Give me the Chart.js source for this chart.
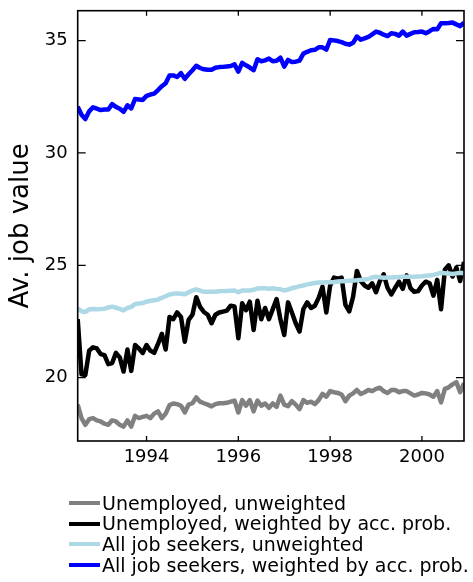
<!DOCTYPE html>
<html>
<head>
<meta charset="utf-8">
<script src="https://cdn.jsdelivr.net/npm/chart.js@4.4.1/dist/chart.umd.min.js"></script>
<style>
  body { margin: 0; background: #fff; }
  #wrap { position: relative; width: 473px; height: 582px; }
  #legend {
    position: absolute; left: 69px; top: 492.5px;
    font-family: "DejaVu Sans", sans-serif; font-size: 19px; line-height: 20.7px; color: #000;
  }
  .row { display: flex; align-items: center; white-space: nowrap; height: 20.7px; }
  .swatch { width: 31px; height: 4px; margin-right: 2px; flex: none; }
</style>
</head>
<body>
<div id="wrap">
  <canvas id="chart" width="473" height="582"></canvas>
  <div id="legend"></div>
</div>
<script>
const firstMonth = 1992 + 6 / 12   // July 1992, monthly data

const seriesNames = [
    'Unemployed, unweighted',
    'Unemployed, weighted by acc. prob.',
    'All job seekers, unweighted',
    'All job seekers, weighted by acc. prob.'
]
const seriesColors = ['#808080', '#000000', '#add8e6', '#0000ff']

const unempUnweighted = [
    18.8, 18.2, 17.9, 18.15, 18.2, 18.1, 18.05, 17.95, 17.9, 18.1,
    18.05, 17.9, 17.82, 18.1, 17.82, 18.3, 18.2, 18.25, 18.3, 18.2,
    18.4, 18.5, 18.2, 18.4, 18.78, 18.85, 18.82, 18.75, 18.45, 18.8,
    18.86, 19.12, 18.93, 18.86, 18.8, 18.72, 18.82, 18.86, 18.86, 18.88,
    18.93, 18.98, 18.45, 19.0, 18.75, 19.0, 18.5, 18.98, 18.75, 18.85,
    18.66, 18.85, 18.7, 19.2, 18.8, 18.73, 18.95, 18.8, 18.6, 19.0,
    18.88, 18.93, 18.82, 19.0, 19.28, 19.15, 19.4, 19.35, 19.32, 19.25,
    18.95, 19.2, 19.3, 19.45, 19.27, 19.35, 19.45, 19.4, 19.5, 19.55,
    19.4, 19.32, 19.45, 19.45, 19.35, 19.4, 19.4, 19.3, 19.2, 19.25,
    19.32, 19.3, 19.25, 19.15, 19.4, 18.9, 19.5, 19.57, 19.7, 19.8,
    19.35, 19.75
]
const unempWeighted = [
    22.6, 20.15, 20.12, 21.2, 21.35, 21.3, 21.05, 21.0, 20.6, 20.65,
    21.1, 20.9, 20.27, 21.25, 20.3, 21.45, 21.3, 21.1, 21.45, 21.2,
    21.1, 21.5, 21.95, 21.25, 22.7, 22.6, 22.9, 22.7, 21.6, 22.57,
    22.8, 23.58, 23.15, 22.92, 22.8, 22.42, 22.8, 22.9, 22.94, 22.98,
    23.2, 23.17, 21.75, 23.31, 23.0, 23.38, 22.12, 23.42, 22.6, 23.1,
    22.6, 23.05, 23.5, 22.6, 21.9, 23.35, 22.9, 22.42, 22.05, 23.05,
    23.35, 23.1, 23.2, 23.55, 24.05, 22.9, 24.1, 24.45, 24.4, 24.45,
    23.24, 22.95, 23.6, 24.75, 24.3, 24.1, 24.0, 24.2, 23.8, 24.3,
    24.6, 24.0, 23.7, 24.0, 24.27, 23.95, 24.55, 23.98, 23.82, 23.85,
    24.1, 24.27, 24.2, 23.65, 24.35, 23.04, 24.8, 25.0, 24.5, 24.9,
    24.3, 25.15
]
const allUnweighted = [
    23.09, 22.95, 22.92, 23.04, 23.05, 23.04, 23.05, 23.07, 23.12, 23.16,
    23.11, 23.06, 22.99, 23.10, 23.15, 23.28, 23.30, 23.32, 23.38, 23.42,
    23.44, 23.48, 23.55, 23.62, 23.70, 23.73, 23.75, 23.73, 23.71, 23.80,
    23.88, 23.93, 23.87, 23.82, 23.82, 23.82, 23.82, 23.84, 23.85, 23.86,
    23.87, 23.88, 23.80, 23.88, 23.88, 23.88, 23.91, 23.97, 23.98, 23.98,
    23.96, 23.98, 23.95, 23.93, 23.88, 23.92, 23.98, 24.02, 24.07, 24.10,
    24.15, 24.18, 24.21, 24.23, 24.23, 24.24, 24.25, 24.26, 24.28, 24.29,
    24.30, 24.31, 24.32, 24.33, 24.35, 24.37, 24.39, 24.46, 24.49, 24.47,
    24.45, 24.46, 24.46, 24.47, 24.48, 24.49, 24.49, 24.49, 24.49, 24.50,
    24.51, 24.53, 24.55, 24.57, 24.62, 24.67, 24.65, 24.63, 24.61, 24.64,
    24.67, 24.65
]
const allWeighted = [
    32.06, 31.70, 31.51, 31.85, 32.03, 31.97, 31.91, 31.93, 31.93, 32.17,
    32.05, 31.97, 31.83, 32.12, 31.98, 32.40, 32.38, 32.36, 32.54, 32.60,
    32.64, 32.80, 32.97, 33.10, 33.45, 33.45, 33.38, 33.55, 33.30, 33.50,
    33.68, 33.88, 33.78, 33.72, 33.70, 33.70, 33.79, 33.82, 33.83, 33.85,
    33.87, 33.94, 33.62, 34.01, 33.90, 33.80, 33.68, 34.17, 34.08, 34.12,
    34.20, 34.08, 34.10, 34.24, 33.84, 34.14, 34.05, 34.06, 34.11, 34.42,
    34.50, 34.57, 34.59, 34.70, 34.70, 34.60, 35.03, 35.01, 34.98, 34.93,
    34.86, 34.82, 34.90, 35.18, 35.04, 35.10, 35.16, 35.28, 35.40, 35.35,
    35.26, 35.20, 35.33, 35.30, 35.22, 35.40, 35.22, 35.30, 35.37, 35.38,
    35.40, 35.33, 35.42, 35.52, 35.50, 35.77, 35.77, 35.78, 35.80, 35.72,
    35.64, 35.80
]

const xTicks = [1994, 1996, 1998, 2000]
const yTicks = [20, 25, 30, 35]

const allSeries = [unempUnweighted, unempWeighted, allUnweighted, allWeighted]
const months = unempUnweighted.map((v, i) => firstMonth + i / 12)

// inward ticks on all four sides plus the box
const frameTicks = {
    id: 'frameTicks',
    afterDatasetsDraw(chart) {
        const { ctx, chartArea: a, scales: { x, y } } = chart
        ctx.save()
        ctx.strokeStyle = '#000'
        ctx.lineWidth = 1.6
        ctx.strokeRect(a.left, a.top, a.right - a.left, a.bottom - a.top)
        ctx.lineWidth = 1.3
        ctx.beginPath()
        x.ticks.forEach(t => {
            const px = x.getPixelForValue(t.value)
            ctx.moveTo(px, a.bottom); ctx.lineTo(px, a.bottom - 5)
            ctx.moveTo(px, a.top); ctx.lineTo(px, a.top + 5)
        })
        y.ticks.forEach(t => {
            const py = y.getPixelForValue(t.value)
            ctx.moveTo(a.left, py); ctx.lineTo(a.left + 8, py)
            ctx.moveTo(a.right, py); ctx.lineTo(a.right - 8, py)
        })
        ctx.stroke()
        ctx.restore()
    }
}

new Chart(document.getElementById('chart'), {
    type: 'line',
    data: {
        datasets: allSeries.map((s, k) => ({
            label: seriesNames[k],
            data: s.map((v, i) => ({ x: months[i], y: v })),
            borderColor: seriesColors[k],
            borderWidth: 4.5,
            borderJoinStyle: 'round',
            pointRadius: 0,
            tension: 0,
            order: 4 - k
        }))
    },
    options: {
        responsive: false,
        animation: false,
        devicePixelRatio: 1,
        layout: { padding: { top: 10.7, right: 9, left: 0, bottom: 0 } },
        plugins: {
            legend: { display: false },
            tooltip: { enabled: false }
        },
        scales: {
            x: {
                type: 'linear',
                min: months[0],
                max: months[months.length - 1],
                afterBuildTicks: s => { s.ticks = xTicks.map(v => ({ value: v })) },
                afterFit: s => { s.height = 141; s.paddingLeft = 0; s.paddingRight = 0 },
                grid: { display: false, drawTicks: false },
                border: { display: false },
                ticks: {
                    padding: 6,
                    color: '#000',
                    font: { family: 'DejaVu Sans', size: 18 },
                    callback: v => String(v)
                }
            },
            y: {
                min: 17.18,
                max: 36.33,
                afterBuildTicks: s => { s.ticks = yTicks.map(v => ({ value: v })) },
                afterFit: s => { s.width = 77.7; s.paddingTop = 0; s.paddingBottom = 0 },
                grid: { display: false, drawTicks: false },
                border: { display: false },
                ticks: {
                    padding: 10,
                    color: '#000',
                    font: { family: 'DejaVu Sans', size: 18 },
                    callback: v => String(v)
                },
                title: {
                    display: true,
                    text: 'Av. job value',
                    color: '#000',
                    font: { family: 'DejaVu Sans', size: 26 },
                    padding: { top: 6, bottom: 0 }
                }
            }
        }
    },
    plugins: [frameTicks]
})

// legend below the plot, one entry per line
const legendDiv = document.getElementById('legend')
seriesNames.forEach((name, k) => {
    const row = document.createElement('div')
    row.className = 'row'
    const sw = document.createElement('span')
    sw.className = 'swatch'
    sw.style.background = seriesColors[k]
    const txt = document.createElement('span')
    txt.textContent = name
    row.appendChild(sw)
    row.appendChild(txt)
    legendDiv.appendChild(row)
})
</script>
</body>
</html>
